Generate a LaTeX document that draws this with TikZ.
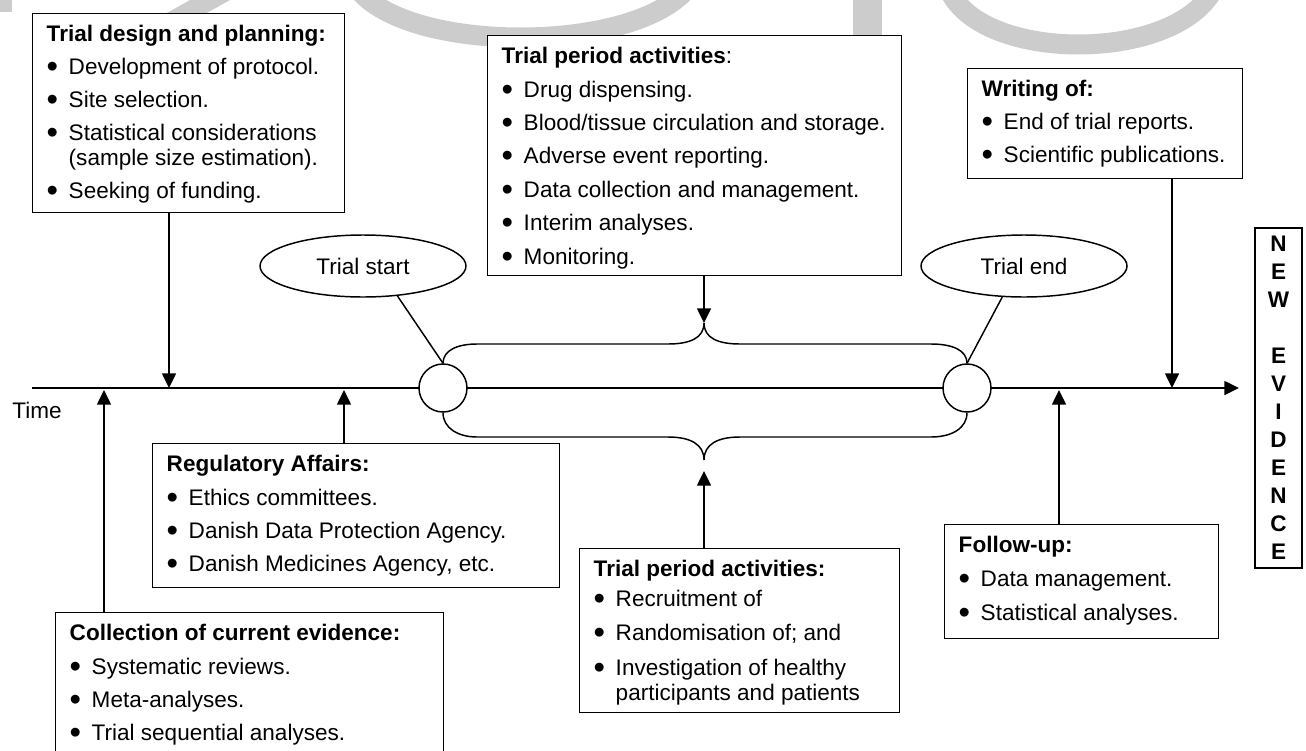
\documentclass[tikz,border=0pt]{standalone}
\usepackage{fontspec}
\setmainfont{Liberation Sans}
\usetikzlibrary{arrows.meta,shapes.geometric}
\newcommand\fs{\fontsize{16.9pt}{18.75pt}\selectfont}
\newcommand\bu{\makebox[16.5pt][l]{\raisebox{-2.2pt}{\scalebox{1.45}{•}}}}
\newcommand\ind{\hspace*{16.5pt}}
\newcommand\boxc[3]{\parbox[c][#2][t]{#1}{\fs\raggedright\leftskip=10.5pt\rule{0pt}{21pt}#3}}
\tikzset{
  lw/.style={line width=1.1pt},
  txtbox/.style={draw,line width=1.1pt,fill=white,inner sep=0pt,anchor=north west},
  arr/.style={line width=1.1pt,-{Triangle[length=11pt,width=10.5pt]}},
  ell/.style={draw,ellipse,line width=1.1pt,fill=white,minimum width=154.5pt,minimum height=46.5pt,inner sep=0pt,font=\fs},
  circ/.style={draw,circle,line width=1.1pt,fill=white,minimum size=36pt,inner sep=0pt},
  wm/.style={draw=black!20,line width=15pt}
}
\begin{document}
\begin{tikzpicture}[x=0.75pt,y=-0.75pt]
\useasboundingbox (0,0) rectangle (1306,750);
% watermark (faint)
\fill[black!20] (0,0) rectangle (12,12);
\fill[black!20] (190,0) -- (230,0) -- (205,14) -- (165,14) -- cycle;
\draw[wm] (355,-15) .. controls (400,55) and (640,55) .. (690,-15);
\fill[black!20] (853,0) rectangle (882,35);
\draw[wm] (950,-8) .. controls (985,62) and (1170,62) .. (1212,-8);
% timeline
\coordinate (t0) at (32,388);
\coordinate (tend) at (1239,388);
\draw[arr] (t0) -- (tend);
\node[font=\fs] (time) at (37,410) {Time};
% boxes
\node[txtbox] (b1) at (32,13) {\boxc{234pt}{149.25pt}{%
\textbf{Trial design and planning:}\\[6pt]
\bu Development of protocol.\\[6pt]
\bu Site selection.\\[6pt]
\bu Statistical considerations\\
\ind(sample size estimation).\\[6pt]
\bu Seeking of funding.}};
\node[txtbox] (tb) at (487,35) {\boxc{310.5pt}{180pt}{%
\textbf{Trial period activities}:\\[6.3pt]
\bu Drug dispensing.\\[6.3pt]
\bu Blood/tissue circulation and storage.\\[6.3pt]
\bu Adverse event reporting.\\[6.3pt]
\bu Data collection and management.\\[6.3pt]
\bu Interim analyses.\\[6.3pt]
\bu Monitoring.}};
\node[txtbox] (wr) at (967,68) {\boxc{206.25pt}{82.5pt}{%
\textbf{Writing of:}\\[6pt]
\bu End of trial reports.\\[6pt]
\bu Scientific publications.}};
\node[txtbox] (reg) at (152,443) {\boxc{305.25pt}{108pt}{%
\textbf{Regulatory Affairs:}\\[6.3pt]
\bu Ethics committees.\\[6.3pt]
\bu Danish Data Protection Agency.\\[6.3pt]
\bu Danish Medicines Agency, etc.}};
\node[txtbox] (col) at (55,612) {\boxc{291pt}{118.5pt}{%
\textbf{Collection of current evidence:}\\[6.3pt]
\bu Systematic reviews.\\[6.3pt]
\bu Meta-analyses.\\[6.3pt]
\bu Trial sequential analyses.}};
\node[txtbox] (bb) at (579,548) {\boxc{240pt}{123pt}{%
\rule{0pt}{1.5pt}\textbf{Trial period activities:}\\[3.5pt]
\bu Recruitment of\\[7pt]
\bu Randomisation of; and\\[7pt]
\bu Investigation of healthy\\
\ind participants and patients}};
\node[txtbox] (fu) at (944,524) {\boxc{205.5pt}{85.5pt}{%
\textbf{Follow-up:}\\[6.5pt]
\bu Data management.\\[6.5pt]
\bu Statistical analyses.}};
\node[draw,line width=1.1pt,fill=white,inner sep=0pt,minimum width=35.25pt,minimum height=255pt,align=center,font=\fontsize{16.9pt}{21pt}\selectfont\bfseries] (ne) at (1278.5,398) {N\\E\\W\\[21pt]E\\V\\I\\D\\E\\N\\C\\E};
% ellipses and circles
\node[ell] (ts) at (363,266) {Trial start};
\node[ell] (te) at (1024,266) {Trial end};
\node[circ] (c1) at (443,388) {};
\node[circ] (c2) at (967,388) {};
\draw[lw] (ts.-41) -- (c1.north);
\draw[lw] (te.-125) -- (c2.north);
% braces
\coordinate (bt) at (704,323);
\coordinate (bbc) at (704,460);
\draw[lw] (c1.north) .. controls (443,350) and (458,344) .. (477,344) -- (668,344)
  .. controls (690,344) and (704,338) .. (bt)
  .. controls (704,338) and (718,344) .. (740,344) -- (931,344)
  .. controls (952,344) and (967,350) .. (c2.north);
\draw[lw] (c1.south) .. controls (443,428) and (458,437) .. (477,437) -- (668,437)
  .. controls (690,437) and (704,444) .. (bbc)
  .. controls (704,444) and (718,437) .. (740,437) -- (931,437)
  .. controls (952,437) and (967,428) .. (c2.south);
% arrows
\coordinate (a1) at (169,388);
\coordinate (a2) at (344,390);
\coordinate (a3) at (104,390);
\coordinate (a4) at (1059,390);
\coordinate (a5) at (1172,388);
\coordinate (a6) at (704,471);
\draw[arr] (a1 |- b1.south) -- (a1);
\draw[arr] (a2 |- reg.north) -- (a2);
\draw[arr] (a3 |- col.north) -- (a3);
\draw[arr] (a4 |- fu.north) -- (a4);
\draw[arr] (a5 |- wr.south) -- (a5);
\draw[arr] (bt |- tb.south) -- (bt);
\draw[arr] (a6 |- bb.north) -- (a6);
\end{tikzpicture}
\end{document}
